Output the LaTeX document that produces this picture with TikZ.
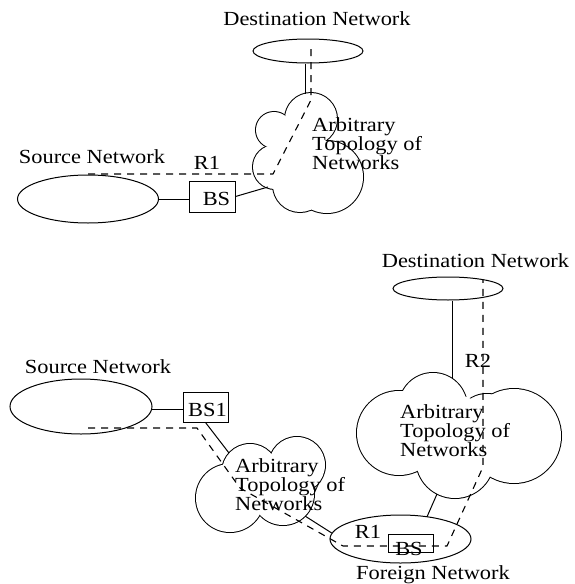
\documentclass[tikz,border=0pt]{standalone}
\usepackage{fontspec}
\setmainfont{Liberation Serif}
\usetikzlibrary{shapes.geometric}
\begin{document}
\begin{tikzpicture}[x=1pt,y=-1pt,
  lbl/.style={font=\fontsize{20}{17.5}\selectfont, inner sep=0pt, xscale=1.12},
  multi/.style={lbl, align=left, anchor=north west},
  net/.style={draw, ellipse, inner sep=0pt, line width=1pt},
  boxn/.style={draw, rectangle, inner sep=0pt, line width=1pt},
  link/.style={line width=1pt},
  route/.style={line width=1.1pt, dash pattern=on 7pt off 6pt},
  puffline/.style={line width=2pt},
]
\useasboundingbox (0,0) rectangle (574,584);

% ---------- clouds (outline circles drawn thick, then all filled white)
\foreach \x/\y/\r in {311/119/26, 274/130/18, 275/167/22, 327/177/36, 300/185/27,
                      250/472/28, 297/465/28, 283/494/31, 230/498/34,
                      399/433/42, 433/407/34, 514/436/47, 487/425/31, 455/459/39}
  \draw[puffline] (\x,\y) circle[radius=\r];
\foreach \x/\y/\r in {311/119/26, 274/130/18, 275/167/22, 327/177/36, 300/185/27, 300/155/25,
                      250/472/28, 297/465/28, 283/494/31, 230/498/34, 265/485/22,
                      399/433/42, 433/407/34, 514/436/47, 487/425/31, 455/459/39, 455/430/35}
  \fill[white] (\x,\y) circle[radius=\r];
\coordinate (cloudA) at (305,150);
\coordinate (cloudB) at (260,485);
\coordinate (cloudC) at (455,435);

% ================= top diagram
\node[lbl, anchor=base] (dsttxt1) at (317,25) {Destination Network};
\node[net, minimum width=110, minimum height=24] (dst1) at (308,51) {};
\node[lbl, anchor=base] (srctxt1) at (92,163) {Source Network};
\node[net, minimum width=141, minimum height=48] (src1) at (88,199) {};
\node[boxn, minimum width=46, minimum height=31] (bs1) at (212,196.5) {};
\node[lbl, anchor=base] (bs1t) at (216.5,205) {BS};
\node[lbl, anchor=base] (r1t) at (207,169) {R1};

\coordinate (c1top) at (305,93.5);
\coordinate (c1bl) at (268,187);
\draw[link] (dst1.south -| c1top) -- (c1top);
\draw[link] (src1.east) -- (src1.east -| bs1.west);
\draw[link] (bs1.east) -- (c1bl);

\coordinate (r1a) at (88,174);
\coordinate (r1b) at (273,174);
\coordinate (r1c) at (311,100);
\coordinate (r1d) at (311,45);
\draw[route] (r1a) -- (r1b) -- (r1c) -- (r1d);

\node[multi] (cl1t) at (312,117.3) {Arbitrary\\Topology of\\Networks};

% ================= bottom diagram
\node[lbl, anchor=base] (dsttxt2) at (475.5,267) {Destination Network};
\node[net, minimum width=110, minimum height=23] (dst2) at (448,288.5) {};
\node[lbl, anchor=base] (srctxt2) at (98,373) {Source Network};
\node[net, minimum width=142, minimum height=55] (src2) at (81,406.5) {};
\node[boxn, minimum width=45, minimum height=30] (bs2) at (205.5,407) {};
\node[lbl, anchor=base] (bs2t) at (207.5,416) {BS1};
\node[net, minimum width=141, minimum height=48] (fn) at (400.5,539) {};
\node[boxn, minimum width=45, minimum height=18] (bs3) at (410.5,543) {};
\node[lbl, anchor=base] (fntxt) at (433,579) {Foreign Network};

\coordinate (s2e) at (151.7,409.5);
\coordinate (c2top) at (229,453);
\coordinate (c2br) at (305,516);
\coordinate (fnw) at (331.7,533);
\coordinate (c3top) at (452,378.8);
\coordinate (c3bot) at (437,494);
\coordinate (fntop) at (427,516.8);
\draw[link] (s2e) -- (s2e -| bs2.west);
\draw[link] (bs2.south) -- (c2top);
\draw[link] (c2br) -- (fnw);
\draw[link] (dst2.south -| c3top) -- (c3top);
\draw[link] (c3bot) -- (fntop);

\coordinate (q1) at (88,428);
\coordinate (q2) at (197,428);
\coordinate (q3) at (240,488);
\coordinate (q4) at (343,546);
\coordinate (q5) at (447,546);
\coordinate (q6) at (483,467);
\coordinate (q7) at (483,280);
\draw[route] (q1) -- (q2) -- (q3) -- (q4) -- (q5) -- (q6) -- (q7);

\node[lbl, anchor=base] (bs3t) at (409,555) {BS};
\node[lbl, anchor=base] (r1bt) at (368,538) {R1};
\node[lbl, anchor=base] (r2t) at (478,367) {R2};
\node[multi] (cl2t) at (235,458.3) {Arbitrary\\Topology of\\Networks};
\node[multi] (cl3t) at (400,404.3) {Arbitrary\\Topology of\\Networks};
\end{tikzpicture}
\end{document}
